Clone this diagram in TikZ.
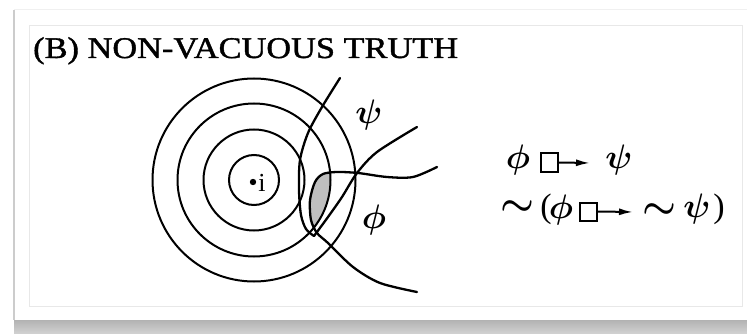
\RequirePackage{fix-cm}
\documentclass[tikz,border=0pt]{standalone}
\usepackage{fontspec}
\setmainfont{Liberation Serif}
\usepackage{graphicx}
\usetikzlibrary{arrows.meta}
\begin{document}
\begin{tikzpicture}[x=1pt,y=-1pt,
  curve/.style={line width=2.3pt, line cap=round, line join=round},
  ring/.style={line width=2.0pt},
  sym/.style={inner sep=0pt, font=\fontsize{34}{40}\selectfont\boldmath},
  tild/.style={inner sep=0pt, font=\fontsize{38}{44}\selectfont\boldmath},
  cfbox/.style={draw, line width=2pt, minimum width=17pt, minimum height=18pt, inner sep=0pt},
  cfarrow/.style={line width=2pt, -{Latex[length=14pt,width=7pt]}}
]
\useasboundingbox (0,0) rectangle (747,334);
\fill[white] (0,0) rectangle (747,334);
% card frame and shadow
\shade[top color=gray!60, bottom color=gray!35] (14,320) rectangle (747,334);
\draw[gray!40, line width=2.5pt] (14,10) -- (14,320);
\draw[gray!12, line width=1pt] (14,10) -- (747,10);
\draw[gray!18, line width=0.8pt] (29,25) rectangle (742,306);

% title
\node[anchor=base west, inner sep=0pt, font=\fontsize{30}{36}\selectfont\addfontfeatures{FakeBold=1.2}] (title) at (33,58) {\scalebox{1.145}[1]{(B) NON-VACUOUS TRUTH}};

% shaded region
\begin{scope}
\clip (254,180) circle (76.5);
\fill[gray!50] plot[smooth] coordinates {(437,167) (413,177) (387,177) (358,173) (337,172) (323,174) (315,182) (310,200) (311,220) (317,233) (328,243) (353,267) (380,283) (417,292)} -- (450,300) -- (450,160) -- cycle;
\end{scope}

% spheres of similarity
\draw[ring] (254,180) circle (25);
\draw[ring] (254,180) circle (50.5);
\draw[ring] (254,180) circle (76.5);
\draw[ring] (254,180) circle (101.5);

% psi boundary
\draw[curve] plot[smooth] coordinates {(340,78) (322,107) (308,133) (300,160) (299,190) (301,215) (306,229) (314,236)};
\draw[curve] plot[smooth] coordinates {(314,236) (328,217) (342,197) (357,173) (377,152) (417,127)};
% phi boundary
\draw[curve] plot[smooth] coordinates {(437,167) (413,177) (387,177) (358,173) (337,172) (323,174) (315,182) (310,200) (311,220) (317,233) (328,243) (353,267) (380,283) (417,292)};

% world i
\fill (253,182) circle (3.2);
\node[anchor=base, inner sep=0pt, font=\fontsize{26}{30}\selectfont] (ilabel) at (262,191) {i};

% region labels
\node[sym] (psilab) at (369,115) {$\psi$};
\node[sym] (philab) at (374,220) {$\phi$};

% formulas
\node[sym] (p1) at (518,160) {$\phi$};
\node[cfbox] (b1) at (549.5,162.5) {};
\coordinate (e1) at (590,163);
\draw[cfarrow] (b1.east) -- (e1);
\node[sym] (q1) at (619,160) {$\psi$};

\node[tild] (t1) at (517,208) {$\sim$};
\node[sym] (lp) at (546,209) {(};
\node[sym] (p2) at (561,210) {$\phi$};
\node[cfbox] (b2) at (588.5,211.5) {};
\coordinate (e2) at (633,212);
\draw[cfarrow] (b2.east) -- (e2);
\node[tild] (t2) at (659,211) {$\sim$};
\node[sym] (q2) at (697,209) {$\psi$};
\node[sym] (rp) at (719,209) {)};
\end{tikzpicture}
\end{document}
